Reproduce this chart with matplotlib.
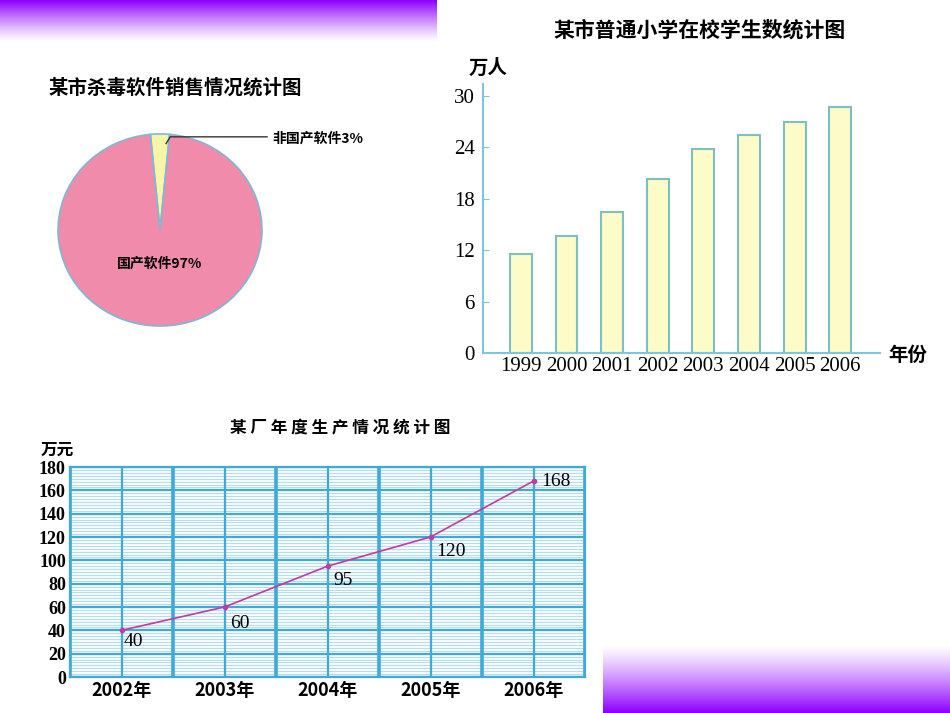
import matplotlib
matplotlib.use("Agg")
import matplotlib.pyplot as plt
import numpy as np

plt.rcParams['font.family'] = ['Noto Sans CJK SC', 'DejaVu Sans']

pie_labels = ['非国产软件', '国产软件']
pie_values = [3, 97]
bar_years = ['1999', '2000', '2001', '2002', '2003', '2004', '2005', '2006']
bar_values = [11.5, 13.7, 16.5, 20.3, 23.8, 25.4, 27.0, 28.7]
bar_ticks = [0, 6, 12, 18, 24, 30]
line_years = ['2002年', '2003年', '2004年', '2005年', '2006年']
line_values = [40, 60, 95, 120, 168]

W, H = 950, 713
fig = plt.figure(figsize=(9.5, 7.13), dpi=100)

def rect(x0, y0, x1, y1):
    return [x0 / W, 1 - y1 / H, (x1 - x0) / W, (y1 - y0) / H]

def gradient(x0, y0, x1, y1, top_purple):
    ax = fig.add_axes(rect(x0, y0, x1, y1))
    g = np.linspace(0, 1, 100).reshape(-1, 1)
    if not top_purple:
        g = g[::-1]
    c0 = np.array([0.55, 0.0, 1.0]); c1 = np.array([1.0, 1.0, 1.0])
    img = (c0[None, None, :] * (1 - g[..., None]) ** 1.2 + c1[None, None, :] * (1 - (1 - g[..., None]) ** 1.2))
    ax.imshow(img, aspect='auto', extent=[0, 1, 0, 1])
    ax.axis('off')

gradient(0, 0, 437, 42, True)
gradient(603, 645, 950, 713, False)

serif = ['Liberation Serif', 'Noto Sans CJK SC']

# Pie
fig.text(175 / W, 1 - 88 / H, '某市杀毒软件销售情况统计图', ha='center', va='center',
         fontsize=14, fontweight='bold')
axp = fig.add_axes(rect(57, 133, 263, 327))
axp.pie(pie_values, colors=['#f6f5a8', '#f08bab'], startangle=90 - 0.5 * 3.6 * pie_values[0],
        counterclock=True, wedgeprops=dict(edgecolor='#7fb8d6', linewidth=1.2))
axp.set_aspect('auto')
axp.set_xlim(-1.01, 1.01); axp.set_ylim(-1.01, 1.01)
axp.plot([0.06, 0.1, 1.05], [0.9, 0.97, 0.97], color='#333333', lw=1, clip_on=False)
axp.text(0.0, -0.35, '国产软件97%', ha='center', va='center', fontsize=10, fontweight='bold')
fig.text(272 / W, 1 - 139 / H, f'{pie_labels[0]}{pie_values[0]}%', ha='left', va='center',
         fontsize=10, fontweight='bold')

# Bars
fig.text(700 / W, 1 - 30 / H, '某市普通小学在校学生数统计图', ha='center', va='center',
         fontsize=15, fontweight='bold')
axb = fig.add_axes(rect(483, 84, 880, 353))
x = np.arange(len(bar_years))
axb.bar(x, bar_values, width=0.48, color='#fdfbc8', edgecolor='#7fbfbf', linewidth=1.5)
axb.set_xlim(-0.83, 7.87); axb.set_ylim(0, 31.4)
axb.set_yticks(bar_ticks)
axb.set_yticklabels([str(t) for t in bar_ticks], family=serif, fontsize=15)
axb.set_xticks(x)
axb.set_xticklabels(bar_years, family=serif, fontsize=15)
for s in ['top', 'right']:
    axb.spines[s].set_visible(False)
for s in ['left', 'bottom']:
    axb.spines[s].set_color('#7fc4dc'); axb.spines[s].set_linewidth(1.5)
axb.tick_params(axis='y', length=4, color='#7fc4dc', direction='in', pad=6)
axb.tick_params(axis='x', length=0, pad=3)
fig.text(488 / W, 1 - 68 / H, '万人', ha='center', va='center', fontsize=14, fontweight='bold')
fig.text(908 / W, 1 - 355 / H, '年份', ha='center', va='center', fontsize=14, fontweight='bold')

# Line
fig.text(340 / W, 1 - 428 / H, '某 厂 年 度 生 产 情 况 统 计 图', ha='center', va='center',
         fontsize=12, fontweight='bold')
fig.text(57 / W, 1 - 450 / H, '万元', ha='center', va='center', fontsize=12,
         fontweight='bold', style='italic')
axl = fig.add_axes(rect(70, 467, 585, 677))
axl.set_facecolor('#f4fafd')
xl = np.arange(len(line_years))
axl.set_xlim(-0.5, 4.5); axl.set_ylim(0, 180)
for yv in np.arange(0, 181, 2.5):
    axl.axhline(yv, color='#a9d8ea', lw=0.6, zorder=0)
for yv in range(0, 181, 20):
    axl.axhline(yv, color='#3fa9d8', lw=1.6, zorder=1)
for xv in np.arange(-0.5, 4.6, 1):
    axl.axvline(xv, color='#3fa9d8', lw=2.6, zorder=1)
for xv in xl:
    axl.axvline(xv, color='#3fa9d8', lw=1.6, zorder=1)
axl.plot(xl, line_values, color='#c03aa8', lw=1.2, marker='o', ms=3, zorder=3)
offs = [(0.12, -10), (0.15, -14), (0.15, -12), (0.2, -12), (0.22, 0)]
for i, (v, (dx, dy)) in enumerate(zip(line_values, offs)):
    axl.text(xl[i] + dx, v + dy, str(v), ha='center', va='center', family=serif,
             fontsize=14, zorder=4)
for s in axl.spines.values():
    s.set_color('#3fa9d8'); s.set_linewidth(1.6)
axl.set_yticks(range(0, 181, 20))
axl.set_yticklabels([str(t) for t in range(0, 181, 20)], family=serif, fontsize=13, fontweight='bold')
axl.set_xticks(xl)
axl.set_xticklabels(line_years, fontsize=13, fontweight='bold')
axl.tick_params(length=0, pad=3)

fig.savefig('out.png', dpi=100)
